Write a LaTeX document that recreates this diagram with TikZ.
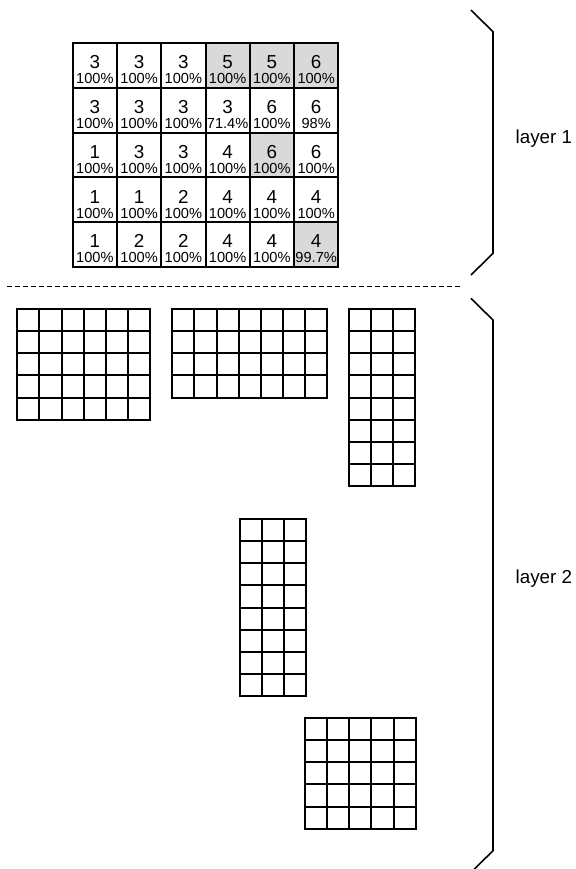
\documentclass[tikz,border=0pt]{standalone}
\usepackage{fontspec}
\setmainfont{Liberation Sans}
\definecolor{cellgray}{RGB}{217,217,217}
\tikzset{
  gridline/.style={line width=2bp, line cap=rect, draw=black},
  cellbox/.style={draw=black, line width=2bp, minimum width=44.27bp, minimum height=44.9bp, inner sep=0pt, outer sep=0pt, anchor=north west},
  bigtxt/.style={font=\fontsize{18.8bp}{20bp}\selectfont, inner sep=0pt, anchor=base},
  smalltxt/.style={font=\fontsize{14.6bp}{16bp}\selectfont, inner sep=0pt, anchor=base},
  bracepath/.style={line width=1.6bp, draw=black},
  layerlbl/.style={font=\fontsize{18.8bp}{20bp}\selectfont, inner sep=0pt, anchor=base west},
  sepline/.style={line width=1.6bp, dash pattern=on 4.5bp off 3.5bp}
}
\newcommand{\mycellgrid}[5]{% x0 y0 cols rows name
  \coordinate (#5-nw) at (#1,#2);
  \coordinate (#5-se) at ({#1+#3*22.15},{#2+#4*22.15});
  \foreach \i in {0,...,#3} \draw[gridline] ({round(#1+\i*22.15)},{round(#2)}) -- ({round(#1+\i*22.15)},{round(#2+#4*22.15)});
  \foreach \j in {0,...,#4} \draw[gridline] ({round(#1)},{round(#2+\j*22.15)}) -- ({round(#1+#3*22.15)},{round(#2+\j*22.15)});
}
\begin{document}
\begin{tikzpicture}[x=1bp,y=-1bp]
\useasboundingbox (0,0) rectangle (576,869);
% ---- layer 1 grid ----
\foreach \row/\vals in {0/{3/100\%/0,3/100\%/0,3/100\%/0,5/100\%/1,5/100\%/1,6/100\%/1},
                        1/{3/100\%/0,3/100\%/0,3/100\%/0,3/71.4\%/0,6/100\%/0,6/98\%/0},
                        2/{1/100\%/0,3/100\%/0,3/100\%/0,4/100\%/0,6/100\%/1,6/100\%/0},
                        3/{1/100\%/0,1/100\%/0,2/100\%/0,4/100\%/0,4/100\%/0,4/100\%/0},
                        4/{1/100\%/0,2/100\%/0,2/100\%/0,4/100\%/0,4/100\%/0,4/99.7\%/1}} {
  \foreach \num/\pct/\g [count=\c from 0] in \vals {
    \ifnum\g=1
      \node[cellbox, fill=cellgray] (cell-\row-\c) at ({72.7+\c*44.27},{42.7+\row*44.9}) {};
    \else
      \node[cellbox, fill=white] (cell-\row-\c) at ({72.7+\c*44.27},{42.7+\row*44.9}) {};
    \fi
    \node[bigtxt] (num-\row-\c) at ({72.7+\c*44.27+22.13},{42.7+\row*44.9+25.6}) {\num};
    \node[smalltxt] (pct-\row-\c) at ({72.7+\c*44.27+22.13},{42.7+\row*44.9+40.6}) {\pct};
  }
}
% ---- separator ----
\coordinate (sepL) at (7,286.6);
\coordinate (sepR) at (460,286.6);
\draw[sepline] (sepL) -- (sepR);
% ---- layer 2 grids ----
\mycellgrid{17.3}{309}{6}{5}{gA}
\mycellgrid{172.3}{309}{7}{4}{gB}
\mycellgrid{349}{309}{3}{8}{gC}
\mycellgrid{239.5}{519}{3}{8}{gD}
\mycellgrid{305}{718}{5}{5}{gE}
% ---- braces ----
\coordinate (b1a) at (471,10);
\coordinate (b1b) at (493,31.8);
\coordinate (b1c) at (493,253.3);
\coordinate (b1d) at (471,275);
\draw[bracepath] (b1a) -- (b1b) -- (b1c) -- (b1d);
\coordinate (b2a) at (471,298.4);
\coordinate (b2b) at (493,320);
\coordinate (b2c) at (493,850.7);
\coordinate (b2d) at (471,872.4);
\draw[bracepath] (b2a) -- (b2b) -- (b2c) -- (b2d);
% ---- labels ----
\node[layerlbl] (lay1) at (515.5,143.3) {layer 1};
\node[layerlbl] (lay2) at (515.5,583.3) {layer 2};
\end{tikzpicture}
\end{document}
